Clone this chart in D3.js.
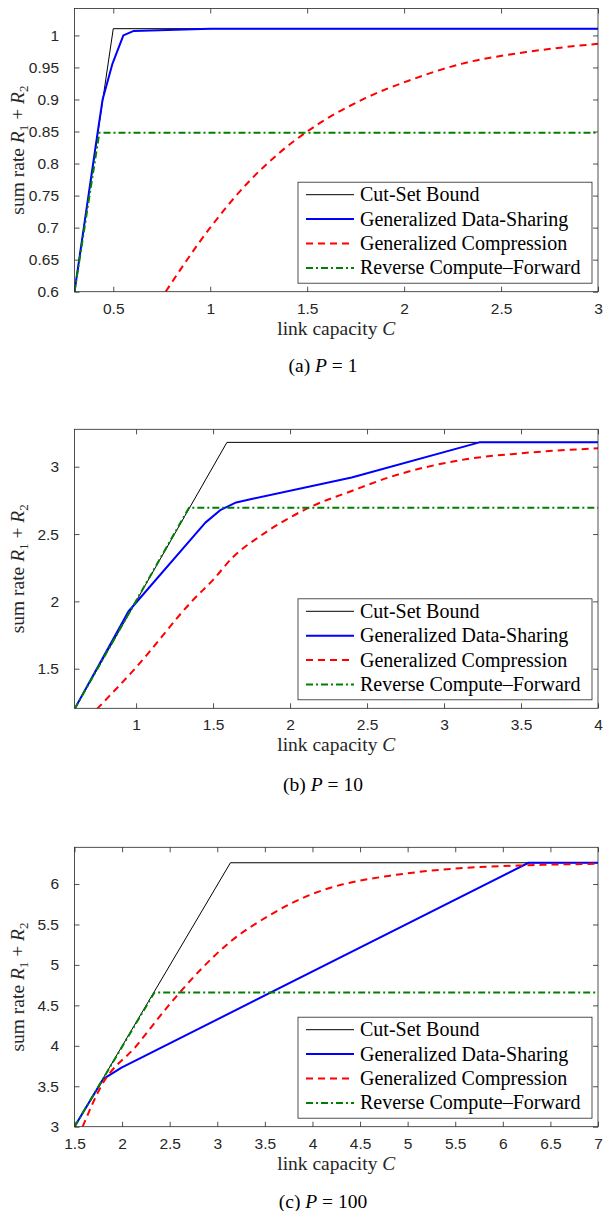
<!DOCTYPE html>
<html>
<head>
<meta charset="utf-8">
<script src="https://cdn.jsdelivr.net/npm/d3@7/dist/d3.min.js"></script>
<style>
  body { margin: 0; background: #fff; }
</style>
</head>
<body>
<div class="chart"></div>
<script>
// series names, same for all three panels
var seriesNames = ["Cut-Set Bound", "Generalized Data-Sharing", "Generalized Compression", "Reverse Compute\u2013Forward"];

// (a) P = 1   -- [C, R1+R2]
var cutSetA = [[0.3, 0.6], [0.5, 1.0105], [3, 1.0105]];
var dataShareA = [[0.3, 0.6], [0.42, 0.85], [0.445, 0.9], [0.496, 0.956], [0.552, 1.0], [0.606, 1.007], [1.0, 1.0105], [3, 1.0105]];
var compressA = [[0.77, 0.6], [1.0, 0.7], [1.2, 0.772], [1.35, 0.815], [1.5, 0.85], [1.8, 0.902], [2.03, 0.93], [2.3, 0.956], [2.63, 0.974], [3, 0.987]];
var rcfA = [[0.3, 0.6], [0.428, 0.848], [3, 0.848]];
var xTicksA = [0.5, 1, 1.5, 2, 2.5, 3];
var yTicksA = [0.6, 0.65, 0.7, 0.75, 0.8, 0.85, 0.9, 0.95, 1];

// (b) P = 10
var cutSetB = [[0.6, 1.2], [1.59, 3.181], [4, 3.181]];
var dataShareB = [[0.6, 1.2], [0.95, 1.925], [1.45, 2.585], [1.55, 2.68], [1.65, 2.735], [1.75, 2.76], [2.4, 2.92], [3.23, 3.181], [4, 3.181]];
var compressB = [[0.745, 1.2], [1.0, 1.51], [1.37, 2.01], [1.5, 2.16], [1.63, 2.33], [1.8, 2.48], [2.13, 2.7], [2.4, 2.82], [2.64, 2.92], [3.14, 3.055], [3.5, 3.1], [4, 3.137]];
var rcfB = [[0.6, 1.2], [1.344, 2.696], [4, 2.696]];
var xTicksB = [1, 1.5, 2, 2.5, 3, 3.5, 4];
var yTicksB = [1.5, 2, 2.5, 3];

// (c) P = 100
var cutSetC = [[1.5, 3.0], [3.138, 6.263], [7, 6.263]];
var dataShareC = [[1.5, 3.0], [1.8, 3.587], [1.994, 3.73], [6.27, 6.263], [7, 6.263]];
var compressC = [[1.585, 3.0], [1.78, 3.5], [2.15, 4.0], [2.49, 4.5], [2.84, 4.96], [3.13, 5.28], [3.53, 5.6], [4.05, 5.9], [4.3, 5.99], [4.8, 6.1], [5.2, 6.16], [5.62, 6.2], [6.2, 6.23], [7, 6.25]];
var rcfC = [[1.5, 3.0], [2.34, 4.66], [7, 4.66]];
var xTicksC = [1.5, 2, 2.5, 3, 3.5, 4, 4.5, 5, 5.5, 6, 6.5, 7];
var yTicksC = [3, 3.5, 4, 4.5, 5, 5.5, 6];

var svgWidth = 606;
var svgHeight = 1211;
var plotLeft = 74.5, plotRight = 598;

var styles = [
  { color: "#000000", width: 1, dash: null, curve: d3.curveLinear },
  { color: "#0000ff", width: 2, dash: null, curve: d3.curveLinear },
  { color: "#ff0000", width: 2, dash: "7,5", curve: d3.curveMonotoneX },
  { color: "#008000", width: 2, dash: "7,3,2,3", curve: d3.curveLinear }
];

var panels = [
  { top: 8.5, bottom: 291.7, x: [0.3, 3], y: [0.6, 1.042], xt: xTicksA, yt: yTicksA,
    series: [cutSetA, dataShareA, compressA, rcfA], tag: "(a)", p: "1", capDy: 80 },
  { top: 429.3, bottom: 708.3, x: [0.6, 4], y: [1.206, 3.278], xt: xTicksB, yt: yTicksB,
    series: [cutSetB, dataShareB, compressB, rcfB], tag: "(b)", p: "10", capDy: 82.4 },
  { top: 847.3, bottom: 1126.7, x: [1.5, 7], y: [3, 6.454], xt: xTicksC, yt: yTicksC,
    series: [cutSetC, dataShareC, compressC, rcfC], tag: "(c)", p: "100", capDy: 81.6 }
];

var svg = d3.select(".chart")
  .append("svg")
  .attr("width", svgWidth)
  .attr("height", svgHeight)
  .style("font-family", "'Liberation Sans', Arial, sans-serif");

svg.append("rect").attr("width", svgWidth).attr("height", svgHeight).attr("fill", "#fff");

var serif = "'Liberation Serif', 'Times New Roman', serif";
var axisColor = "#262626";

panels.forEach(function(pn, pi) {
  var xScale = d3.scaleLinear().domain(pn.x).range([plotLeft, plotRight]);
  var yScale = d3.scaleLinear().domain(pn.y).range([pn.bottom, pn.top]);
  var g = svg.append("g");

  var clipId = "clip" + pi;
  svg.append("clipPath").attr("id", clipId)
    .append("rect")
    .attr("x", plotLeft).attr("y", pn.top)
    .attr("width", plotRight - plotLeft).attr("height", pn.bottom - pn.top);

  // axes (ticks inside, on all four sides)
  var tickLen = 5;
  var bottomAxis = d3.axisBottom(xScale).tickValues(pn.xt).tickSizeInner(-tickLen).tickSizeOuter(0).tickPadding(11).tickFormat(d => String(d));
  var topAxis = d3.axisTop(xScale).tickValues(pn.xt).tickSizeInner(-tickLen).tickSizeOuter(0).tickFormat("");
  var leftAxis = d3.axisLeft(yScale).tickValues(pn.yt).tickSizeInner(-tickLen).tickSizeOuter(0).tickPadding(15.5).tickFormat(d => String(d));
  var rightAxis = d3.axisRight(yScale).tickValues(pn.yt).tickSizeInner(-tickLen).tickSizeOuter(0).tickFormat("");

  [[bottomAxis, `translate(0,${pn.bottom})`], [topAxis, `translate(0,${pn.top})`],
   [leftAxis, `translate(${plotLeft},0)`], [rightAxis, `translate(${plotRight},0)`]].forEach(function(a) {
    var ag = g.append("g").attr("transform", a[1]).call(a[0]);
    ag.select(".domain").remove();
    ag.selectAll("line").attr("stroke", axisColor).attr("stroke-width", 0.8);
    ag.selectAll("text").attr("fill", axisColor).style("font-size", "15.5px").style("font-family", "'Liberation Sans', Arial, sans-serif");
  });

  // lines
  var lg = g.append("g").attr("clip-path", `url(#${clipId})`);
  pn.series.forEach(function(s, i) {
    var line = d3.line().curve(styles[i].curve).x(d => xScale(d[0])).y(d => yScale(d[1]));
    lg.append("path")
      .datum(s)
      .attr("d", line)
      .attr("fill", "none")
      .attr("stroke", styles[i].color)
      .attr("stroke-width", styles[i].width)
      .attr("stroke-dasharray", styles[i].dash)
      .attr("stroke-linejoin", "round");
  });

  // box
  g.append("rect")
    .attr("x", plotLeft).attr("y", pn.top)
    .attr("width", plotRight - plotLeft).attr("height", pn.bottom - pn.top)
    .attr("fill", "none").attr("stroke", axisColor).attr("stroke-width", 0.8);

  // legend
  var legW = 294, legH = 101;
  var legX = plotRight - 6 - legW, legY = pn.bottom - 8.5 - legH;
  var leg = g.append("g").attr("transform", `translate(${legX},${legY})`);
  leg.append("rect").attr("width", legW).attr("height", legH)
    .attr("fill", "#fff").attr("stroke", axisColor).attr("stroke-width", 0.8);
  seriesNames.forEach(function(name, i) {
    var yy = 12.5 + i * 24.4;
    leg.append("line")
      .attr("x1", 8).attr("x2", 56).attr("y1", yy).attr("y2", yy)
      .attr("stroke", styles[i].color)
      .attr("stroke-width", styles[i].width)
      .attr("stroke-dasharray", styles[i].dash);
    leg.append("text")
      .attr("x", 62).attr("y", yy + 6.5)
      .style("font-family", serif).style("font-size", "20px")
      .attr("fill", "#000")
      .text(name);
  });

  // axis labels
  var xl = g.append("text")
    .attr("x", (plotLeft + plotRight) / 2)
    .attr("y", pn.bottom + 43)
    .attr("text-anchor", "middle")
    .style("font-family", serif).style("font-size", "19.5px")
    .attr("fill", axisColor);
  xl.append("tspan").text("link capacity ");
  xl.append("tspan").style("font-style", "italic").text("C");

  var yl = g.append("text")
    .attr("transform", `translate(24,${(pn.top + pn.bottom) / 2}) rotate(-90)`)
    .attr("text-anchor", "middle")
    .style("font-family", serif).style("font-size", "19.5px")
    .attr("fill", axisColor);
  yl.append("tspan").text("sum rate ");
  yl.append("tspan").style("font-style", "italic").text("R");
  yl.append("tspan").attr("dy", 4).style("font-size", "13px").text("1");
  yl.append("tspan").attr("dy", -4).text(" + ");
  yl.append("tspan").style("font-style", "italic").text("R");
  yl.append("tspan").attr("dy", 4).style("font-size", "13px").text("2");

  // caption
  var cap = g.append("text")
    .attr("x", 323)
    .attr("y", pn.bottom + pn.capDy)
    .attr("text-anchor", "middle")
    .style("font-family", serif).style("font-size", "19.5px")
    .attr("fill", "#000");
  cap.append("tspan").text(pn.tag + "  ");
  cap.append("tspan").style("font-style", "italic").text("P");
  cap.append("tspan").text(" = " + pn.p);
});
</script>
</body>
</html>
